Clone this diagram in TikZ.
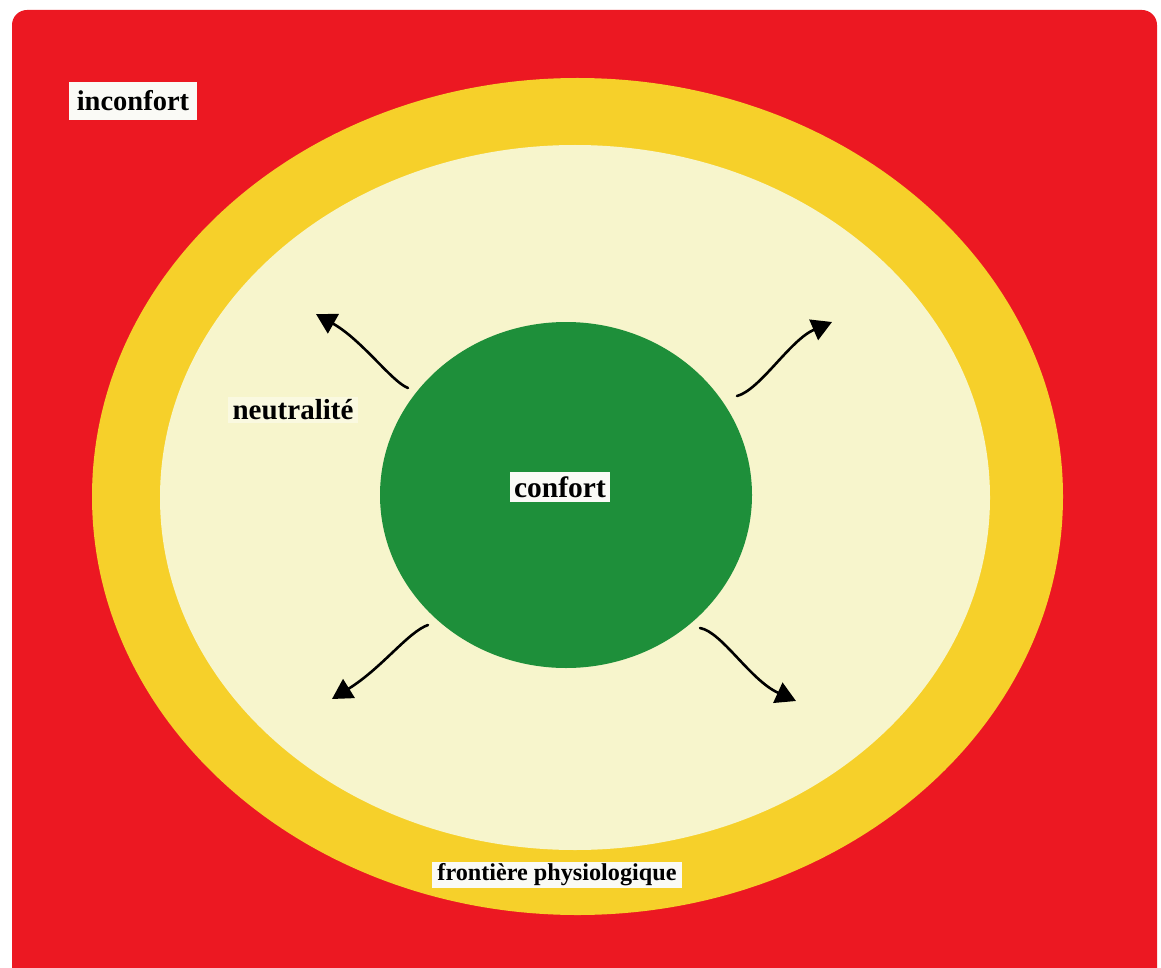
\documentclass[tikz,border=0pt]{standalone}
\usepackage{fontspec}
\setmainfont{Liberation Serif}
\usetikzlibrary{arrows.meta}
\definecolor{zonered}{RGB}{236,24,34}
\definecolor{zoneyellow}{RGB}{246,208,42}
\definecolor{zonecream}{RGB}{247,245,204}
\definecolor{zonegreen}{RGB}{30,143,58}
\definecolor{labelbg}{RGB}{250,250,246}
\tikzset{
  tag/.style={fill=labelbg, inner xsep=5pt, inner ysep=3pt, text=black},
  flow/.style={line width=2.6pt, line cap=round, -{Triangle[length=20pt,width=22pt]}},
}
\begin{document}
\begin{tikzpicture}[x=1pt,y=-1pt]
  \useasboundingbox (0,0) rectangle (1161,968);
  \fill[white] (0,0) rectangle (1161,968);
  % red background, rounded at the top, running off the bottom edge
  \begin{scope}
    \clip (0,0) rectangle (1161,968);
    \fill[zonered, rounded corners=15pt] (12,10) rectangle (1157,1000);
  \end{scope}
  % nested zones
  \fill[zoneyellow] (577.5,496.5) ellipse [x radius=485.5, y radius=418.5];
  \fill[zonecream] (575,497.5) ellipse [x radius=415, y radius=352.5];
  \fill[zonegreen] (566,495) ellipse [x radius=186, y radius=173];
  % labels
  \node[tag, inner xsep=8pt, inner ysep=9pt, font=\bfseries\fontsize{28.5}{30}\selectfont] (inconfort) at (133,101) {inconfort};
  \node[tag, fill=zonecream!60!white, font=\bfseries\fontsize{29}{30}\selectfont] (neutral) at (293,410) {neutralité};
  \node[tag, inner xsep=4.5pt, inner ysep=4pt, font=\bfseries\fontsize{29.5}{30}\selectfont] (confort) at (560,487) {confort};
  \node[tag, inner ysep=2pt, font=\bfseries\fontsize{24.2}{26}\selectfont] (frontiere) at (557,875) {frontière physiologique};
  % arrow end points
  \coordinate (ulS) at (408,388);
  \coordinate (ulE) at (316,314);
  \coordinate (urS) at (737,396);
  \coordinate (urE) at (832,322);
  \coordinate (llS) at (428,625);
  \coordinate (llE) at (332,699);
  \coordinate (lrS) at (700,628);
  \coordinate (lrE) at (796,701);
  % outward arrows
  \draw[flow] (ulS) .. controls (392,382) and (362,340) .. (ulE);
  \draw[flow] (urS) .. controls (760,390) and (790,340) .. (urE);
  \draw[flow] (llS) .. controls (408,632) and (382,668) .. (llE);
  \draw[flow] (lrS) .. controls (722,632) and (750,680) .. (lrE);
\end{tikzpicture}
\end{document}
